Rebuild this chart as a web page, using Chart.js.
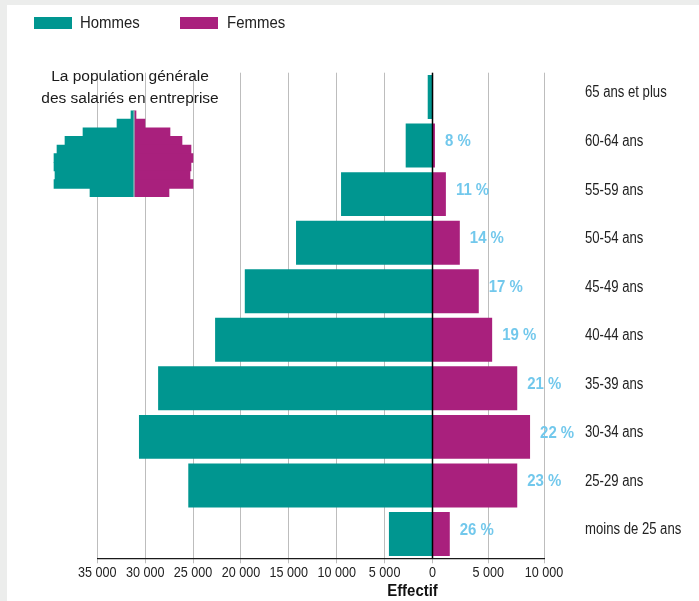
<!DOCTYPE html>
<html lang="fr">
<head>
<meta charset="utf-8">
<script src="https://cdn.jsdelivr.net/npm/chart.js@4.4.1/dist/chart.umd.min.js"></script>
<style>
  html, body { margin: 0; padding: 0; background: #ECEDEC; }
  body { width: 699px; height: 601px; position: relative; overflow: hidden; }
  .panel { position: absolute; left: 7px; top: 5px; width: 692px; height: 596px; background: #fff; }
  #pyramid { position: absolute; left: 0; top: 0; }
  #inset { position: absolute; left: 40px; top: 61px; }
  .legend { position: absolute; top: 14px; font: 17px 'Liberation Sans', Arial, sans-serif; color: #222; }
  .legend span.box { position: absolute; top: 3px; width: 38px; height: 12px; }
  .legend span.lbl { position: absolute; white-space: nowrap; line-height: 18px; transform: scaleX(0.88); transform-origin: left center; }
</style>
</head>
<body>
<div class="panel"></div>
<canvas id="pyramid" width="699" height="601"></canvas>
<canvas id="inset" width="180" height="136"></canvas>
<div class="legend">
  <span class="box" style="left:34px;background:#009690"></span>
  <span class="lbl" style="left:80px">Hommes</span>
  <span class="box" style="left:180px;background:#A9207D"></span>
  <span class="lbl" style="left:227px">Femmes</span>
</div>
<script>
const FONT = "'Liberation Sans', Arial, sans-serif";
const TEAL = "#009690";
const MAGENTA = "#A9207D";

// age groups, top to bottom
const ageGroups = ["65 ans et plus", "60-64 ans", "55-59 ans", "50-54 ans", "45-49 ans",
  "40-44 ans", "35-39 ans", "30-34 ans", "25-29 ans", "moins de 25 ans"];

// effectifs (hommes shown on the left)
const hommes = [500, 2800, 9550, 14250, 19600, 22700, 28650, 30650, 25500, 4550];
const femmes = [50, 220, 1200, 2450, 4150, 5350, 7600, 8750, 7600, 1550];

// share of women per age group
const partFemmes = [null, "8 %", "11 %", "14 %", "17 %", "19 %", "21 %", "22 %", "23 %", "26 %"];

const xTicks = [-35000, -30000, -25000, -20000, -15000, -10000, -5000, 0, 5000, 10000];

// inset: general population of employees, % of total
const popHommes = [0.3, 1.7, 5.1, 6.9, 7.7, 8.0, 8.0, 7.9, 8.0, 4.4];
const popFemmes = [0.2, 1.1, 3.6, 4.8, 5.7, 5.9, 5.7, 5.6, 5.9, 3.5];

// the source draws the two halves of the axis with different spacing
class SplitLinearScale extends Chart.LinearScale {
  getPixelForValue(value) {
    if (value === null || isNaN(value)) return NaN;
    const z = this.options.zeroAt;
    const dec = value < 0 ? z * (1 - value / this.min) : z + (1 - z) * value / this.max;
    return this.getPixelForDecimal(dec);
  }
  getValueForPixel(pixel) {
    const z = this.options.zeroAt;
    const dec = this.getDecimalForPixel(pixel);
    return dec < z ? this.min * (1 - dec / z) : this.max * (dec - z) / (1 - z);
  }
}
SplitLinearScale.id = "splitLinear";
SplitLinearScale.defaults = {};
Chart.register(SplitLinearScale);

const fmt = v => String(Math.abs(v)).replace(/\B(?=(\d{3})+(?!\d))/g, " ");

// the original uses a narrow face, squeeze the regular one
function narrowText(ctx, text, x, y, sx, align) {
  ctx.save();
  ctx.translate(x, y);
  ctx.scale(sx, 1);
  ctx.textAlign = align;
  ctx.fillText(text, 0, 0);
  ctx.restore();
}

const pyramidExtras = {
  id: "pyramidExtras",
  afterDatasetsDraw(chart) {
    const { ctx, chartArea, scales: { x, y } } = chart;
    const x0 = x.getPixelForValue(0);
    ctx.save();
    ctx.strokeStyle = "#000";
    ctx.lineWidth = 1.5;
    ctx.beginPath();
    ctx.moveTo(x0, chartArea.top);
    ctx.lineTo(x0, chartArea.bottom);
    ctx.stroke();

    ctx.textBaseline = "middle";

    // women share labels
    const bars = chart.getDatasetMeta(1).data;
    ctx.font = "bold 17px " + FONT;
    ctx.fillStyle = "#72C8EC";
    bars.forEach((bar, i) => {
      if (partFemmes[i]) narrowText(ctx, partFemmes[i], bar.x + 10, bar.y - 4, 0.88, "left");
    });

    // category labels (right)
    ctx.font = "16px " + FONT;
    ctx.fillStyle = "#222";
    y.ticks.forEach((t, i) => {
      narrowText(ctx, y.getLabelForValue(t.value), chartArea.right + 41, y.getPixelForTick(i) - 4, 0.82, "left");
    });

    // x tick labels
    ctx.font = "15px " + FONT;
    x.ticks.forEach(t => {
      narrowText(ctx, fmt(t.value), x.getPixelForValue(t.value), chartArea.bottom + 15, 0.84, "center");
    });

    // axis title
    ctx.font = "bold 17px " + FONT;
    ctx.fillStyle = "#111";
    ctx.textBaseline = "alphabetic";
    narrowText(ctx, "Effectif", x0 - 20, 596, 0.88, "center");
    ctx.restore();
  }
};

new Chart(document.getElementById("pyramid"), {
  type: "bar",
  data: {
    labels: ageGroups,
    datasets: [
      { label: "Hommes", data: hommes.map(v => -v), backgroundColor: TEAL },
      { label: "Femmes", data: femmes, backgroundColor: MAGENTA }
    ]
  },
  options: {
    indexAxis: "y",
    responsive: false,
    animation: false,
    barPercentage: 0.905,
    categoryPercentage: 1,
    layout: { padding: { top: 72.7, left: 97.3, right: 0, bottom: 0 } },
    scales: {
      x: {
        type: "splitLinear",
        zeroAt: 0.7504,
        stacked: true,
        min: -35000,
        max: 10000,
        afterBuildTicks: scale => { scale.ticks = xTicks.map(v => ({ value: v })); },
        afterFit: scale => { scale.height = 42.7; },
        ticks: { display: false, autoSkip: false, maxRotation: 0 },
        grid: { color: "#BDBDBD", lineWidth: 1, tickLength: 5 },
        border: { display: true, color: "#1a1a1a", width: 1.2 }
      },
      y: {
        position: "right",
        stacked: true,
        afterFit: scale => { scale.width = 155; },
        ticks: { display: false },
        grid: { display: false, drawTicks: false },
        border: { display: false }
      }
    },
    plugins: {
      legend: { display: false },
      tooltip: { enabled: false }
    }
  },
  plugins: [pyramidExtras]
});

const insetCenter = {
  id: "insetCenter",
  afterDatasetsDraw(chart) {
    const { ctx, chartArea, scales: { x } } = chart;
    const x0 = x.getPixelForValue(0);
    ctx.save();
    ctx.strokeStyle = "rgba(205,205,205,0.9)";
    ctx.lineWidth = 1;
    ctx.beginPath();
    ctx.moveTo(x0, chartArea.top);
    ctx.lineTo(x0, chartArea.bottom);
    ctx.stroke();
    ctx.restore();
  }
};

new Chart(document.getElementById("inset"), {
  type: "bar",
  data: {
    labels: ageGroups,
    datasets: [
      { data: popHommes.map(v => -v), backgroundColor: TEAL },
      { data: popFemmes, backgroundColor: MAGENTA }
    ]
  },
  options: {
    indexAxis: "y",
    responsive: false,
    animation: false,
    barPercentage: 1,
    categoryPercentage: 1,
    layout: { padding: 0 },
    scales: {
      x: { display: false, stacked: true, min: -9.4, max: 8.6 },
      y: { display: false, stacked: true }
    },
    plugins: {
      legend: { display: false },
      tooltip: { enabled: false },
      title: {
        display: true,
        text: ["La population générale", "des salariés en entreprise"],
        font: { family: FONT, size: 15.5, weight: "normal", lineHeight: 1.4 },
        color: "#1a1a1a",
        padding: { top: 5, bottom: 1 }
      }
    }
  },
  plugins: [insetCenter]
});
</script>
</body>
</html>
